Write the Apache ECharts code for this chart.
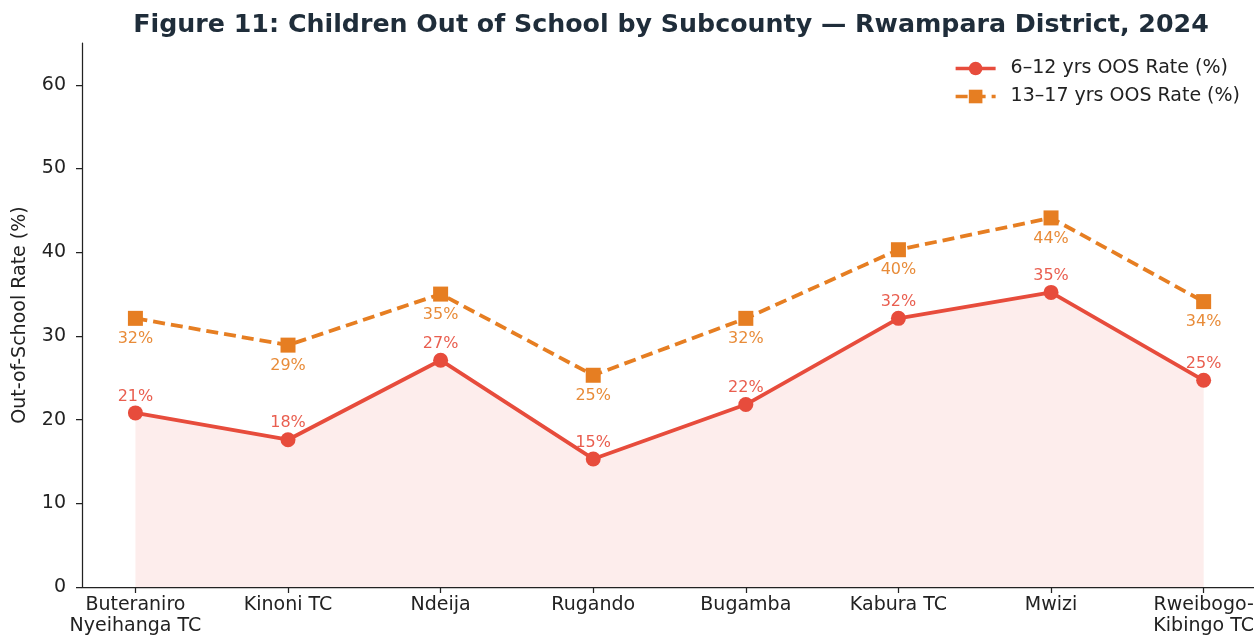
<!DOCTYPE html>
<html>
<head>
<meta charset="utf-8">
<script src="https://cdn.jsdelivr.net/npm/echarts@6/dist/echarts.min.js"></script>
<style>html,body{margin:0;padding:0;background:#fff}#c{width:1254px;height:639px}</style>
</head>
<body>
<div id="c"></div>
<script>
const categories = ["Buteraniro\nNyeihanga TC", "Kinoni TC", "Ndeija", "Rugando", "Bugamba", "Kabura TC", "Mwizi", "Rweibogo-\nKibingo TC"];
const rate6to12 = [20.8, 17.6, 27.1, 15.3, 21.8, 32.1, 35.2, 24.7];
const rate13to17 = [32.1, 28.9, 35.0, 25.3, 32.1, 40.3, 44.1, 34.1];
const yTicks = [0, 10, 20, 30, 40, 50, 60];
const xTicks = categories.map((c, i) => i);
const seriesNames = ["6–12 yrs OOS Rate (%)", "13–17 yrs OOS Rate (%)"];
const titleText = "Figure 11: Children Out of School by Subcounty — Rwampara District, 2024";
const yName = "Out-of-School Rate (%)";

const RED = "#e74c3c", ORANGE = "#e67e22";
const font = "DejaVu Sans";
const chart = echarts.init(document.getElementById("c"), null, {renderer: "canvas"});
chart.setOption({
  animation: false,
  backgroundColor: "#fff",
  title: {
    text: titleText, left: 666, top: 8, textAlign: "center",
    textStyle: {fontFamily: font, fontSize: 25.3, fontWeight: "bold", color: "#1f2d3a"}
  },
  legend: {
    orient: "vertical", right: 9, top: 54, itemWidth: 40, itemHeight: 17, itemGap: 9,
    lineStyle: {width: 3.5},
    textStyle: {fontFamily: font, fontSize: 19, color: "#222", padding: [0, 0, 0, 10]},
    data: seriesNames
  },
  grid: {left: 82, right: 0, top: 43, bottom: 52, containLabel: false, outerBoundsMode: "none"},
  xAxis: {
    type: "value", min: -0.35, max: 7.33,
    splitLine: {show: false},
    axisLine: {show: true, onZero: false, lineStyle: {color: "#222", width: 1.25}},
    axisTick: {show: true, customValues: xTicks, length: 6, lineStyle: {color: "#222", width: 1.25}},
    axisLabel: {customValues: xTicks, formatter: v => categories[Math.round(v)] || "",
      fontFamily: font, fontSize: 19, color: "#222", margin: 8, lineHeight: 21}
  },
  yAxis: {
    type: "value", min: 0, max: 65,
    name: yName, nameLocation: "middle", nameGap: 52,
    nameTextStyle: {fontFamily: font, fontSize: 19, color: "#222"},
    splitLine: {show: false},
    axisLine: {show: true, onZero: false, lineStyle: {color: "#222", width: 1.25}},
    axisTick: {show: true, customValues: yTicks, length: 6, lineStyle: {color: "#222", width: 1.25}},
    axisLabel: {customValues: yTicks, fontFamily: font, fontSize: 19, color: "#222", margin: 16}
  },
  series: [
    {
      name: seriesNames[0], type: "line", z: 3,
      data: rate6to12.map((v, i) => [i, v]),
      symbol: "circle", symbolSize: 15,
      lineStyle: {color: RED, width: 3.8},
      itemStyle: {color: RED},
      areaStyle: {color: "rgba(231,76,60,0.14)", origin: "start"},
      label: {show: true, position: "top", distance: 1, formatter: p => Math.round(p.value[1]) + "%",
        fontFamily: font, fontSize: 16, color: "rgba(231,76,60,0.9)"}
    },
    {
      name: seriesNames[1], type: "line", z: 2,
      data: rate13to17.map((v, i) => [i, v]),
      symbol: "rect", symbolSize: 15,
      lineStyle: {color: ORANGE, width: 3.8, type: [12, 6]},
      itemStyle: {color: ORANGE},
      label: {show: true, position: "bottom", distance: 5, formatter: p => Math.round(p.value[1]) + "%",
        fontFamily: font, fontSize: 16, color: "rgba(230,126,34,0.9)"}
    }
  ]
});
</script>
</body>
</html>
